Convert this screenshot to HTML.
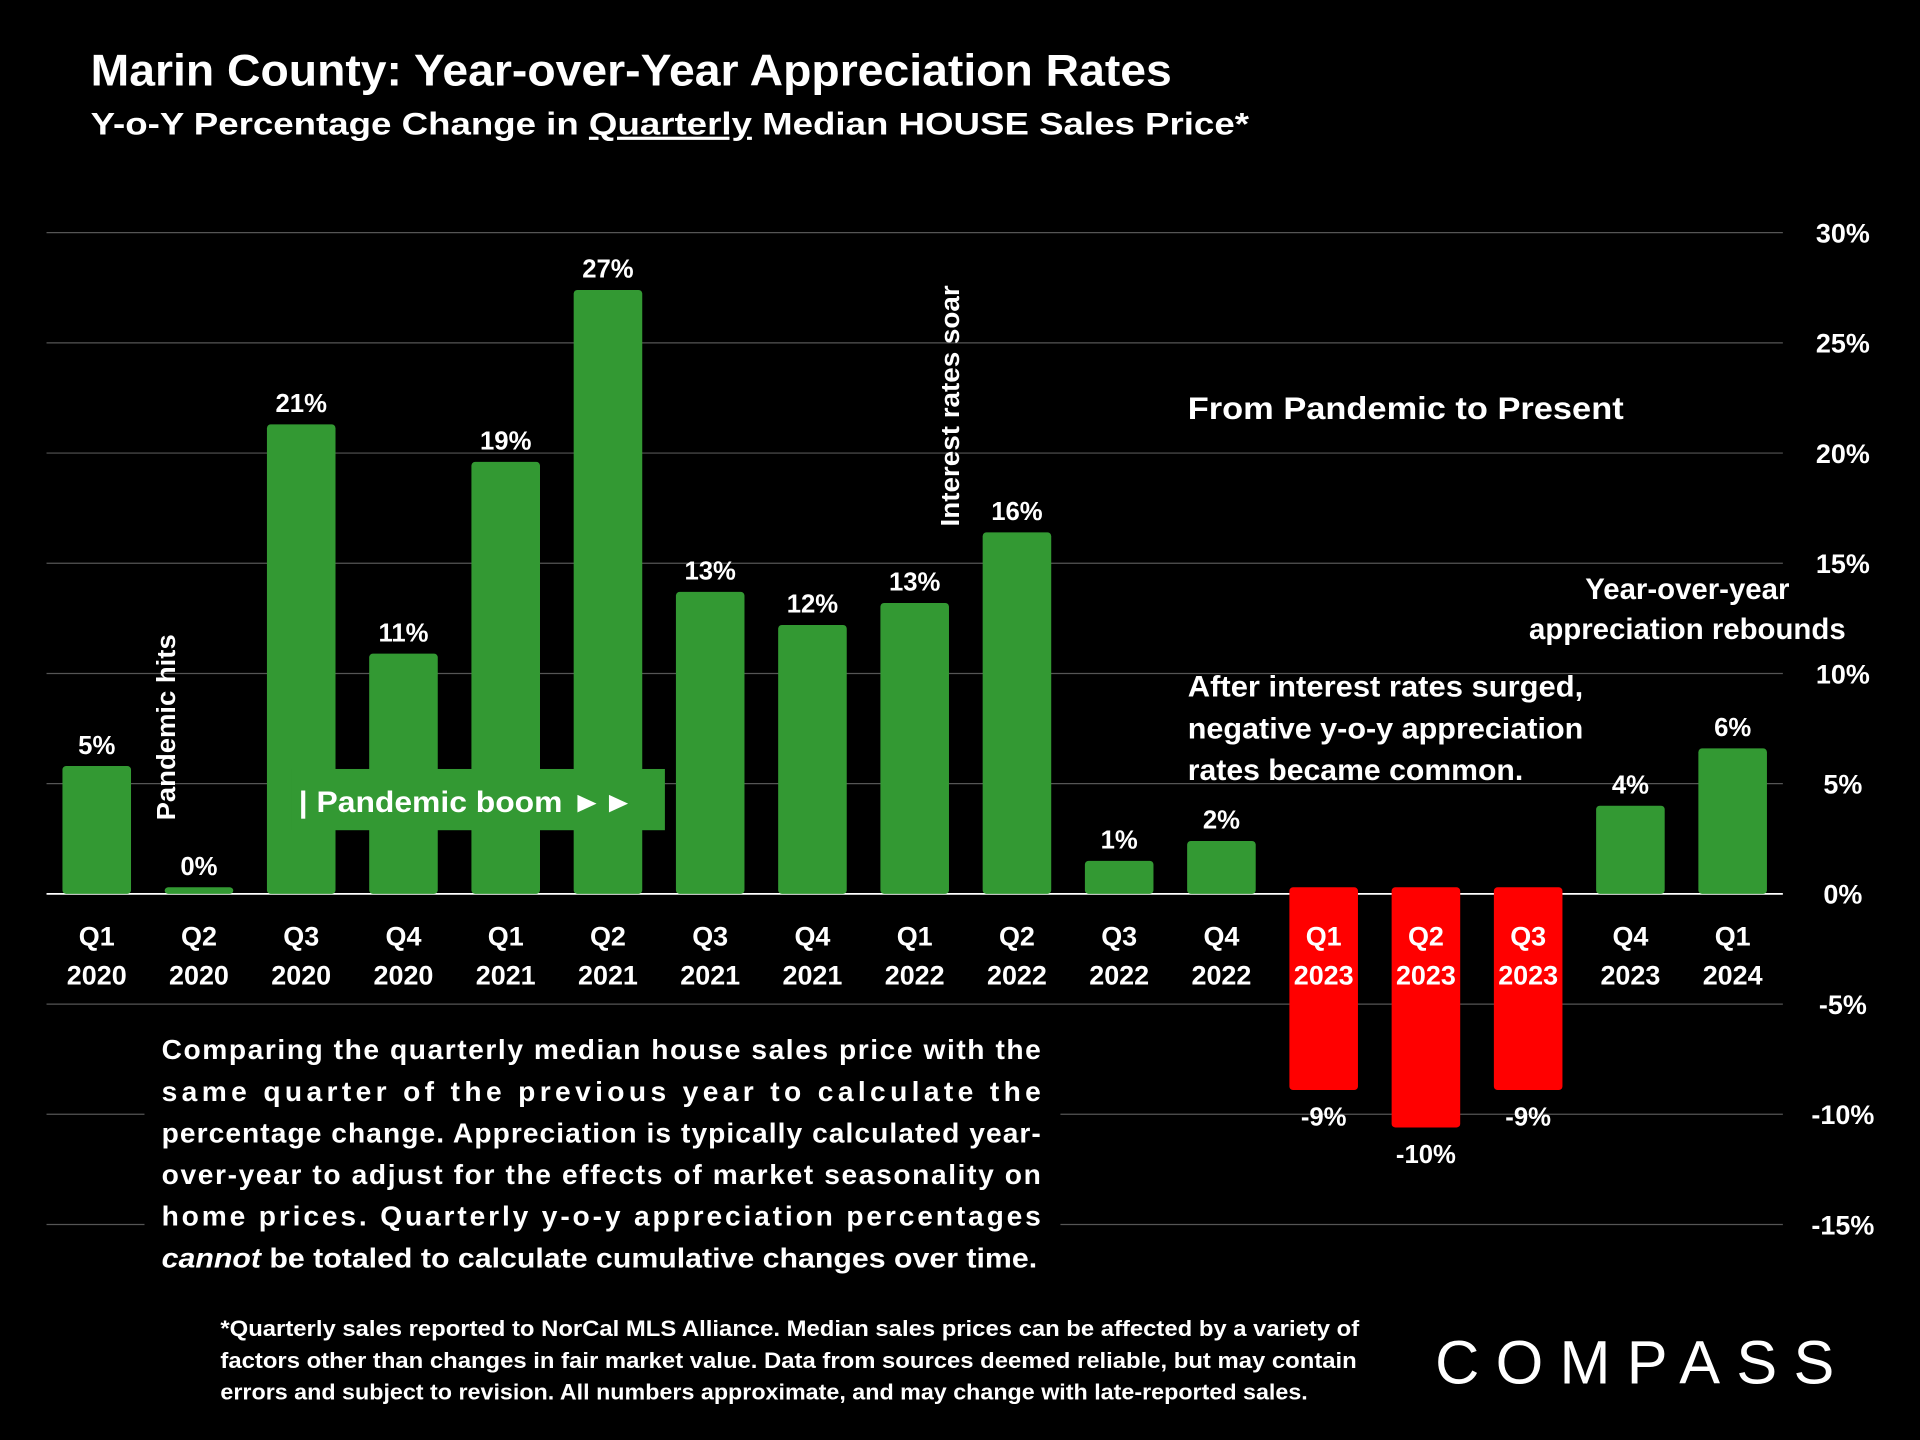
<!DOCTYPE html>
<html><head><meta charset="utf-8"><style>
html,body{margin:0;padding:0;background:#000;}
svg{display:block;font-family:"Liberation Sans",sans-serif;font-weight:bold;}
</style></head><body>
<svg id="chart" width="1920" height="1440" viewBox="0 0 1568 1176" xmlns="http://www.w3.org/2000/svg">
<rect width="1568" height="1176" fill="#000"/>
<text x="74" y="70" fill="#fff" font-size="36" textLength="883" lengthAdjust="spacingAndGlyphs">Marin County: Year-over-Year Appreciation Rates</text>
<text x="74" y="110" fill="#fff" font-size="26" textLength="946" lengthAdjust="spacingAndGlyphs">Y-o-Y Percentage Change in <tspan text-decoration="underline">Quarterly</tspan> Median HOUSE Sales Price*</text>
<g id="grid"></g>
<g id="yticks"></g>
<g id="bars"></g>
<g id="xlabels"></g>
<rect x="238" y="628" width="305" height="50" fill="#339933"/>
<text x="244" y="663" fill="#fff" font-size="24" textLength="274" lengthAdjust="spacingAndGlyphs">| Pandemic boom  ►►</text>
<text transform="translate(143,670) rotate(-90)" fill="#fff" font-size="21" textLength="152" lengthAdjust="spacingAndGlyphs">Pandemic hits</text>
<text transform="translate(783,430) rotate(-90)" fill="#fff" font-size="21" textLength="197" lengthAdjust="spacingAndGlyphs">Interest rates soar</text>
<text x="970" y="342" fill="#fff" font-size="26" textLength="356" lengthAdjust="spacingAndGlyphs">From Pandemic to Present</text>
<g fill="#fff" font-size="24" text-anchor="middle"><text x="1378" y="489">Year-over-year</text><text x="1378" y="522">appreciation rebounds</text></g>
<g fill="#fff" font-size="24"><text x="970" y="569" textLength="323" lengthAdjust="spacingAndGlyphs">After interest rates surged,</text><text x="970" y="603" textLength="323" lengthAdjust="spacingAndGlyphs">negative y-o-y appreciation</text><text x="970" y="637" textLength="274" lengthAdjust="spacingAndGlyphs">rates became common.</text></g>
<rect x="118" y="835" width="748" height="210" fill="#000"/>
<g fill="#fff" font-size="23">
<text x="132" y="865" textLength="718" lengthAdjust="spacing">Comparing the quarterly median house sales price with the</text>
<text x="132" y="899" textLength="718" lengthAdjust="spacing">same quarter of the previous year to calculate the</text>
<text x="132" y="933" textLength="718" lengthAdjust="spacing">percentage change. Appreciation is typically calculated year-</text>
<text x="132" y="967" textLength="718" lengthAdjust="spacing">over-year to adjust for the effects of market seasonality on</text>
<text x="132" y="1001" textLength="718" lengthAdjust="spacing">home prices. Quarterly y-o-y appreciation percentages</text>
<text x="132" y="1035" textLength="715" lengthAdjust="spacingAndGlyphs"><tspan font-style="italic">cannot</tspan> be totaled to calculate cumulative changes over time.</text>
</g>
<g fill="#fff" font-size="18">
<text x="180" y="1091" textLength="930" lengthAdjust="spacingAndGlyphs">*Quarterly sales reported to NorCal MLS Alliance. Median sales prices can be affected by a variety of</text>
<text x="180" y="1117" textLength="928" lengthAdjust="spacingAndGlyphs">factors other than changes in fair market value. Data from sources deemed reliable, but may contain</text>
<text x="180" y="1143" textLength="888" lengthAdjust="spacingAndGlyphs">errors and subject to revision. All numbers approximate, and may change with late-reported sales.</text>
</g>
<text x="1172" y="1130" fill="#fff" font-size="50" font-weight="normal" letter-spacing="7" textLength="333" lengthAdjust="spacing">COMPASS</text>
<script>
const categories=["Q1|2020","Q2|2020","Q3|2020","Q4|2020","Q1|2021","Q2|2021","Q3|2021","Q4|2021","Q1|2022","Q2|2022","Q3|2022","Q4|2022","Q1|2023","Q2|2023","Q3|2023","Q4|2023","Q1|2024"];
const values=[5.8,0.3,21.3,10.9,19.6,27.4,13.7,12.2,13.2,16.4,1.5,2.4,-8.9,-10.6,-8.9,4.0,6.6];
const valueLabels=["5%","0%","21%","11%","19%","27%","13%","12%","13%","16%","1%","2%","-9%","-10%","-9%","4%","6%"];
const yTicks=[30,25,20,15,10,5,0,-5,-10,-15];
const yTickLabels=["30%","25%","20%","15%","10%","5%","0%","-5%","-10%","-15%"];
const NS="http://www.w3.org/2000/svg";
function y(v){return 730-v*18;}
function x(i){return 79+i*83.5;}
function mk(tag,attrs,parent){const e=document.createElementNS(NS,tag);for(const k in attrs)e.setAttribute(k,attrs[k]);parent.appendChild(e);return e;}
const grid=document.getElementById('grid'),yt=document.getElementById('yticks'),bars=document.getElementById('bars'),xl=document.getElementById('xlabels');
yTicks.forEach((t,i)=>{
 const l=mk('line',{x1:38,x2:1456,y1:y(t),y2:y(t),stroke:t===0?'#ffffff':'#555555','stroke-width':t===0?1.5:1},grid);
 
 
 const tx=mk('text',{x:1505,y:y(t)+8,fill:'#fff','font-size':22,'text-anchor':'middle'},yt);
 tx.textContent=yTickLabels[i];
 
 
});
categories.forEach((c,i)=>{
 const v=values[i],w=56,neg=v<0;
 const top=neg?y(0.3):y(v),bot=neg?y(v):y(0);
 const r=mk('rect',{x:x(i)-w/2,y:top,width:w,height:bot-top,rx:3,fill:neg?'#ff0000':'#339933'},bars);
 
 
 const lt=mk('text',{x:x(i),y:neg?y(v)+29:y(v)-10,fill:'#fff','font-size':21,'text-anchor':'middle'},bars);
 lt.textContent=valueLabels[i];
 
 
 const [q,yr]=c.split('|');
 const t1=mk('text',{x:x(i),y:772,fill:'#fff','font-size':22,'text-anchor':'middle'},xl);t1.textContent=q;
 
 
 const t2=mk('text',{x:x(i),y:804,fill:'#fff','font-size':22,'text-anchor':'middle'},xl);t2.textContent=yr;
 
 
});
</script>
</svg>
</body></html>
